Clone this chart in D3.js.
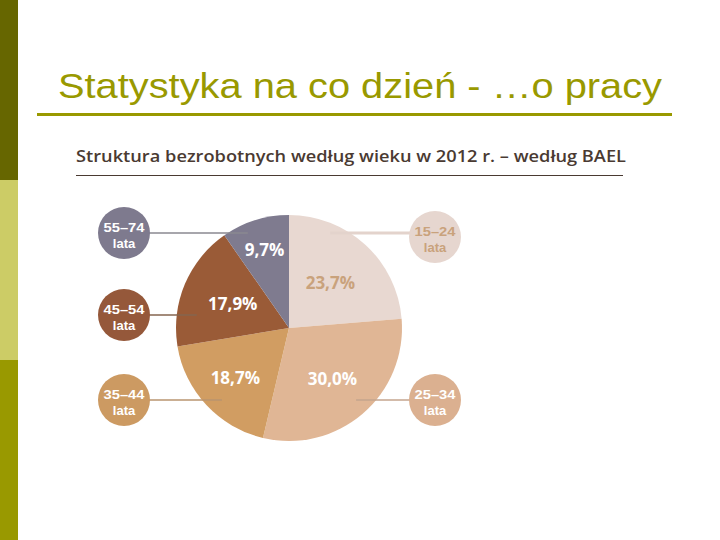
<!DOCTYPE html>
<html><head><meta charset="utf-8">
<script src="https://cdn.jsdelivr.net/npm/d3@7"></script>
<style>html,body{margin:0;padding:0;background:#fff;}svg{display:block;}</style>
</head><body>
<script>
const title = "Statystyka na co dzień - …o pracy";
const subtitle = "Struktura bezrobotnych według wieku w 2012 r. – według BAEL";
const categories = ["15–24", "25–34", "35–44", "45–54", "55–74"];
const unitLabel = "lata";
const values = [23.7, 30.0, 18.7, 17.9, 9.7];
const valueLabels = ["23,7%", "30,0%", "18,7%", "17,9%", "9,7%"];
const sliceColors = ["#e8d8d1", "#e0b695", "#d19d62", "#9a5b37", "#7f7b8f"];
const bubbleColors = ["#e6d6cf", "#dbb090", "#cc9a62", "#95583a", "#7e7a8e"];
const bubbleText = ["#c9a27c", "#ffffff", "#ffffff", "#ffffff", "#ffffff"];
const valueText = ["#c9a27c", "#ffffff", "#ffffff", "#ffffff", "#ffffff"];
const leaderColors = ["#e3d3cc", "#c4a48e", "#b8946f", "#85644f", "#8a8890"];

const W = 720, H = 540;
const svg = d3.select("body").append("svg").attr("width", W).attr("height", H);

// left side bar
const bands = [["#666600", 0, 180], ["#cccc66", 180, 360], ["#999900", 360, 540]];
svg.selectAll("rect.band").data(bands).join("rect")
  .attr("x", 0).attr("width", 18)
  .attr("y", d => d[1]).attr("height", d => d[2] - d[1])
  .attr("fill", d => d[0]);

// title
svg.append("text").attr("x", 58).attr("y", 98)
  .attr("font-family", "Liberation Sans, Arial, sans-serif")
  .attr("font-size", 35).attr("fill", "#999900")
  .attr("textLength", 604).attr("lengthAdjust", "spacingAndGlyphs")
  .text(title);
svg.append("rect").attr("x", 37).attr("y", 113).attr("width", 635).attr("height", 3).attr("fill", "#999900");

// subtitle
svg.append("text").attr("x", 76).attr("y", 162)
  .attr("font-family", "Open Sans, sans-serif").attr("font-weight", 600)
  .attr("font-size", 17).attr("fill", "#4a3a32")
  .attr("textLength", 550).attr("lengthAdjust", "spacingAndGlyphs")
  .text(subtitle);
svg.append("rect").attr("x", 76).attr("y", 175).attr("width", 547).attr("height", 1).attr("fill", "#4a3a32");

// pie
const cx = 289, cy = 328, R = 113;
const pie = d3.pie().sort(null).value(d => d)(values);
const arc = d3.arc().innerRadius(0).outerRadius(R);
const g = svg.append("g").attr("transform", `translate(${cx},${cy})`);

// bubble layout (presentation)
const bubblePos = [[435, 237], [435, 400], [124, 400], [124, 315], [124, 233]];
const leaderY = [233, 400, 400, 315, 233];
const bubbleR = 26;

leaderY.forEach((y, i) => {
  const dy = y - cy;
  const dx = Math.sqrt(Math.max(0, R * R - dy * dy));
  const right = bubblePos[i][0] > cx;
  const xPie = right ? cx + dx - 20 : cx - dx + 20;
  svg.append("line")
    .attr("x1", bubblePos[i][0]).attr("x2", xPie)
    .attr("y1", y).attr("y2", y)
    .attr("stroke", leaderColors[i]).attr("stroke-width", i === 0 ? 3 : 1.5);
});

g.selectAll("path").data(pie).join("path")
  .attr("d", arc).attr("fill", (d, i) => sliceColors[i]);

const labelR = [0.54, 0.59, 0.65, 0.54, 0.72];
g.selectAll("text.val").data(pie).join("text")
  .attr("class", "val")
  .each(function (d, i) {
    const a = (d.startAngle + d.endAngle) / 2;
    const r = R * labelR[i];
    d3.select(this).attr("x", r * Math.sin(a)).attr("y", -r * Math.cos(a) + 6);
  })
  .attr("text-anchor", "middle")
  .attr("font-family", "Open Sans, sans-serif").attr("font-weight", 700)
  .attr("font-size", 17)
  .attr("fill", (d, i) => valueText[i])
  .text((d, i) => valueLabels[i]);

// bubbles
const bub = svg.selectAll("g.bub").data(categories).join("g")
  .attr("transform", (d, i) => `translate(${bubblePos[i][0]},${bubblePos[i][1]})`);
bub.append("circle").attr("r", bubbleR).attr("fill", (d, i) => bubbleColors[i]);
bub.append("text").attr("text-anchor", "middle").attr("y", -1)
  .attr("font-family", "Liberation Sans, Arial, sans-serif").attr("font-weight", 700)
  .attr("font-size", 13).attr("fill", (d, i) => bubbleText[i])
  .attr("textLength", 41).attr("lengthAdjust", "spacingAndGlyphs")
  .text(d => d);
bub.append("text").attr("text-anchor", "middle").attr("y", 14.5)
  .attr("font-family", "Liberation Sans, Arial, sans-serif").attr("font-weight", 700)
  .attr("font-size", 13).attr("fill", (d, i) => bubbleText[i])
  .text(unitLabel);
</script>
</body></html>
